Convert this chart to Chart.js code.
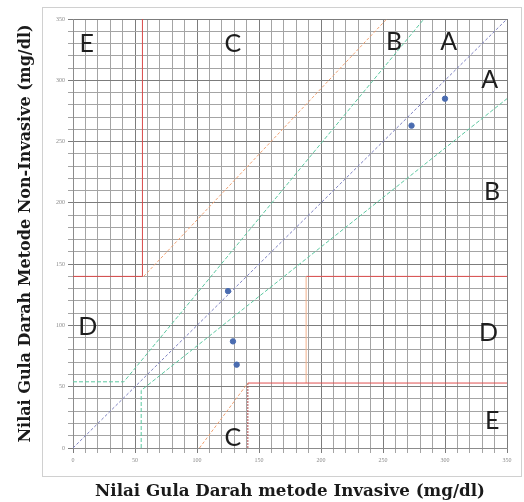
<!DOCTYPE html>
<html>
<head>
<meta charset="utf-8">
<script src="https://cdn.jsdelivr.net/npm/chart.js@4.4.0/dist/chart.umd.min.js"></script>
<style>
  body { margin: 0; background: #fff; }
  #wrap { width: 524px; height: 502px; }
</style>
</head>
<body>
<div id="wrap"><canvas id="grid" width="524" height="502"></canvas></div>
<script>
// hasil pengukuran (mg/dl)
const invasive = [125, 129, 132, 273, 300];
const nonInvasive = [128, 87, 68, 263, 285];

// garis batas zona (clarke error grid)
const diagonal = [{x: 0, y: 0}, {x: 350, y: 350}];
const upperGreen = [{x: 0, y: 54}, {x: 41, y: 54}, {x: 283, y: 350}];
const lowerGreen = [{x: 55, y: 0}, {x: 55, y: 47}, {x: 350, y: 285}];
const upperRed = [{x: 0, y: 140}, {x: 56, y: 140}, {x: 56, y: 350}];
const upperOrange = [{x: 57, y: 140}, {x: 253, y: 350}];
const lowerOrange = [{x: 102, y: 0}, {x: 141, y: 53}];
const lowerRedV = [{x: 141, y: 0}, {x: 141, y: 53}];
const lowerRedH = [{x: 141, y: 53}, {x: 350, y: 53}];
const rightOrangeV = [{x: 188, y: 53}, {x: 188, y: 140}];
const rightRedH = [{x: 188, y: 140}, {x: 350, y: 140}];

// label zona
const zoneText = ['E', 'C', 'B', 'A', 'A', 'B', 'D', 'C', 'D', 'E'];
const zoneX = [11, 129, 259, 303, 336, 338, 12, 129, 335, 338];
const zoneY = [330, 330, 331, 331, 300, 209, 99, 8, 94, 22];

const axisTicks = [0, 50, 100, 150, 200, 250, 300, 350];

const pts = invasive.map((v, i) => ({x: v, y: nonInvasive[i]}));

function line(data, color, dash) {
  return {
    data: data,
    showLine: true,
    borderColor: color,
    borderWidth: 1,
    borderDash: dash || [],
    pointRadius: 0,
    pointHoverRadius: 0,
    order: 2
  };
}

const zonePlugin = {
  id: 'zones',
  beforeDraw(chart) {
    const a = chart.chartArea;
    const c = chart.ctx;
    c.save();
    c.strokeStyle = '#d0d0d0';
    c.lineWidth = 1;
    c.strokeRect(a.left - 30.5, a.top - 11.5, a.right - a.left + 45, a.bottom - a.top + 40);
    c.restore();
  },
  afterDatasetsDraw(chart) {
    const c = chart.ctx;
    const xs = chart.scales.x, ys = chart.scales.y;
    c.save();
    c.fillStyle = '#1e1e1e';
    c.font = '25px Lato';
    c.textAlign = 'center';
    c.textBaseline = 'middle';
    zoneText.forEach((t, i) => {
      c.fillText(t, xs.getPixelForValue(zoneX[i]), ys.getPixelForValue(zoneY[i]));
    });
    c.restore();
  }
};

const gridColor = (ctx) => (ctx.tick && ctx.tick.value % 50 === 0) ? '#7c7c7c' : '#a4a4a4';

new Chart(document.getElementById('grid'), {
  type: 'scatter',
  data: {
    datasets: [
      line(diagonal, '#7b7fc0', [3, 2]),
      line(upperGreen, '#5cc8a0', [4, 2]),
      line(lowerGreen, '#5cc8a0', [4, 2]),
      line(upperRed, '#d94a4a'),
      line(upperOrange, '#f0a070', [3, 2]),
      line(lowerOrange, '#f0a070', [3, 2]),
      line(lowerRedV, '#b04848', [2, 1]),
      line(lowerRedH, '#e05050'),
      line(rightOrangeV, '#f2b08a'),
      line(rightRedH, '#e05050'),
      {
        data: pts,
        backgroundColor: '#4a6cb0',
        borderColor: '#4a6cb0',
        pointRadius: 2.7,
        order: 1
      }
    ]
  },
  options: {
    responsive: false,
    animation: false,
    layout: { padding: { top: 19, right: 17, left: 0, bottom: 0 } },
    plugins: { legend: { display: false }, tooltip: { enabled: false } },
    scales: {
      x: {
        type: 'linear', min: 0, max: 350,
        afterFit(s) { s.height = 54; },
        ticks: {
          stepSize: 10, autoSkip: false, maxRotation: 0, padding: 4,
          font: { size: 6, family: 'Liberation Serif' }, color: '#8a8a8a',
          callback: (v) => axisTicks.includes(v) ? v : ''
        },
        grid: { color: gridColor, tickLength: 5 },
        border: { color: '#8c8c8c' },
        title: {
          display: true, text: 'Nilai Gula Darah metode Invasive (mg/dl)',
          font: { family: 'DejaVu Serif', weight: 'bold', size: 16.7 },
          color: '#1a1a1a', padding: { top: 3, bottom: 0 }
        }
      },
      y: {
        type: 'linear', min: 0, max: 350,
        afterFit(s) { s.width = 73; },
        ticks: {
          stepSize: 10, autoSkip: false, padding: 3,
          font: { size: 6, family: 'Liberation Serif' }, color: '#8a8a8a',
          callback: (v) => axisTicks.includes(v) ? v : ''
        },
        grid: { color: gridColor, tickLength: 5 },
        border: { color: '#8c8c8c' },
        title: {
          display: true, text: 'Nilai Gula Darah Metode Non-Invasive (mg/dl)',
          font: { family: 'DejaVu Serif', weight: 'bold', size: 16 },
          color: '#1a1a1a', padding: { top: 16, bottom: 0 }
        }
      }
    }
  },
  plugins: [zonePlugin]
});
</script>
</body>
</html>
